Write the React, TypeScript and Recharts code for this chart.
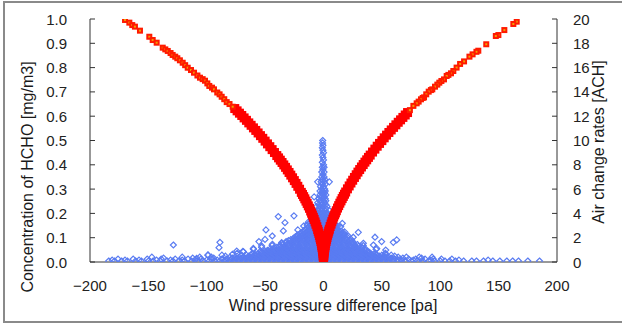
import React from 'react';
import { ScatterChart, Scatter, XAxis, YAxis } from 'recharts';

const xTicks = [-200, -150, -100, -50, 0, 50, 100, 150, 200];
const leftTicks = [0, 0.1, 0.2, 0.3, 0.4, 0.5, 0.6, 0.7, 0.8, 0.9, 1.0];
const rightTicks = [0, 2, 4, 6, 8, 10, 12, 14, 16, 18, 20];

// HCHO concentration points, grouped by concentration level: [y, x values]
const blueRows: [number, number[]][] = [
  [0.004, [-184, -179, -173, -168, -161, -156, -150, -146, -140, -134, -129, -124, -119, -113, -108, -103, -98, -93, -89, -85, -81, -77, -73, -69, -65, -61, -57, -53, -49, -45, -41, -37, -33, -29, -25, -21, -17, -13, -9, -5, -1, 3, 7, 11, 15, 19, 23, 27, 31, 35, 39, 43, 47, 51, 55, 59, 63, 67, 70, 75, 80, 85, 90, 95, 100, 104, 108, 113, 120, 127, 131, 137, 145, 151, 157, 162, 167, 175, 185]],
  [0.008, [-181, -170, -158, -143, -131, -121, -110, -100, -91, -84, -80, -76, -72, -68, -64, -60, -56, -52, -48, -44, -40, -36, -32, -28, -24, -20, -16, -12, -8, -4, 0, 4, 8, 12, 16, 20, 24, 28, 32, 36, 40, 44, 48, 52, 56, 60, 64, 77, 92, 116, 141]],
  [0.012, [-176, -163, -151, -139, -127, -116, -105, -96, -87, -83, -79, -75, -71, -67, -63, -59, -55, -51, -47, -43, -39, -35, -31, -27, -23, -19, -15, -11, -7, -3, 1, 5, 9, 13, 17, 21, 25, 29, 33, 37, 41, 45, 49, 53, 57, 61, 66, 73, 79, 87, 94, 101, 110]],
  [0.016, [-137, -112, -94, -78, -74, -70, -66, -62, -58, -54, -50, -46, -42, -38, -34, -30, -26, -22, -18, -14, -10, -6, -2, 2, 6, 10, 14, 18, 22, 26, 30, 34, 38, 42, 46, 50, 54, 58, 68, 84]],
  [0.02, [-147, -121, -106, -96, -80, -76, -72, -68, -64, -60, -56, -52, -48, -44, -40, -36, -32, -28, -24, -20, -16, -12, -8, -4, 0, 4, 8, 12, 16, 20, 24, 28, 32, 36, 40, 44, 48, 52, 56, 64, 71, 82, 93]],
  [0.024, [-84, -64, -60, -56, -52, -48, -44, -40, -36, -32, -28, -24, -20, -16, -12, -8, -4, 0, 4, 8, 12, 16, 20, 24, 28, 32, 36, 40, 44, 48, 52, 61]],
  [0.028, [-99, -87, -70, -66, -62, -58, -54, -50, -46, -42, -38, -34, -30, -26, -22, -18, -14, -10, -6, -2, 2, 6, 10, 14, 18, 22, 26, 30, 34, 38, 42, 46, 50, 58]],
  [0.032, [-78, -59, -55, -51, -47, -43, -39, -35, -31, -27, -23, -19, -15, -11, -7, -3, 1, 5, 9, 13, 17, 21, 25, 29, 33, 37, 41, 45]],
  [0.036, [-74, -61, -56, -52, -48, -44, -40, -36, -32, -28, -24, -20, -16, -12, -8, -4, 0, 4, 8, 12, 16, 20, 24, 28, 32, 36, 40, 44, 53]],
  [0.04, [-53, -49, -45, -41, -37, -33, -29, -25, -21, -17, -13, -9, -5, -1, 3, 7, 11, 15, 19, 23, 27, 31, 35, 39]],
  [0.044, [-69, -54, -50, -46, -42, -38, -34, -30, -26, -22, -18, -14, -10, -6, -2, 2, 6, 10, 14, 18, 22, 26, 30, 34, 38]],
  [0.048, [-48, -44, -40, -36, -32, -28, -24, -20, -16, -12, -8, -4, 0, 4, 8, 12, 16, 20, 24, 28, 32, 36]],
  [0.052, [-60, -46, -42, -38, -34, -30, -26, -22, -18, -14, -10, -6, -2, 2, 6, 10, 14, 18, 22, 26, 30, 35, 45]],
  [0.056, [-43, -39, -35, -31, -27, -23, -19, -15, -11, -7, -3, 1, 5, 9, 13, 17, 21, 25, 29, 33]],
  [0.06, [-53, -40, -36, -32, -28, -24, -20, -16, -12, -8, -4, 0, 4, 8, 12, 16, 20, 24, 28, 33]],
  [0.064, [-38, -34, -30, -26, -22, -18, -14, -10, -6, -2, 2, 6, 10, 14, 18, 22, 26, 30]],
  [0.068, [-44, -37, -33, -29, -25, -21, -17, -13, -9, -5, -1, 3, 7, 11, 15, 19, 23, 27, 34]],
  [0.072, [-35, -31, -27, -23, -19, -15, -11, -7, -3, 1, 5, 9, 13, 17, 21, 25, 29]],
  [0.076, [-36, -30, -26, -22, -18, -14, -10, -6, -2, 2, 6, 10, 14, 18, 22, 26]],
  [0.08, [-32, -28, -24, -20, -16, -12, -8, -4, 0, 4, 8, 12, 16, 20, 24]],
  [0.084, [-32, -27, -23, -19, -15, -11, -7, -3, 1, 5, 9, 13, 17, 21, 25]],
  [0.088, [-30, -26, -22, -18, -14, -10, -6, -2, 2, 6, 10, 14, 18, 22]],
  [0.092, [-28, -24, -20, -16, -12, -8, -4, 0, 4, 8, 12, 16, 20, 24]],
  [0.096, [-26, -22, -18, -14, -10, -6, -2, 2, 6, 10, 14, 18]],
  [0.1, [-25, -21, -17, -13, -9, -5, -1, 3, 7, 11, 15, 19]],
  [0.104, [-24, -20, -16, -12, -8, -4, 0, 4, 8, 12, 16, 20]],
  [0.108, [-23, -19, -15, -11, -7, -3, 1, 5, 9, 13, 17, 21]],
  [0.112, [-22, -18, -14, -10, -6, -2, 2, 6, 10, 14, 18]],
  [0.116, [-20, -16, -12, -8, -4, 0, 4, 8, 12, 16]],
  [0.12, [-19, -15, -11, -7, -3, 1, 5, 9, 13, 17]],
  [0.124, [-18, -14, -10, -6, -2, 2, 6, 10, 14, 18]],
  [0.128, [-17, -13, -9, -5, -1, 3, 7, 11, 15]],
  [0.132, [-22, -16, -12, -8, -4, 0, 4, 8, 12]],
  [0.136, [-15, -11, -7, -3, 1, 5, 9]],
  [0.14, [-14, -10, -6, -2, 2, 6, 10]],
  [0.144, [-13, -9, -5, -1, 3, 7, 11]],
  [0.148, [-17, -12, -8, -4, 0, 4, 8, 12]],
  [0.152, [-14, -10, -6, -2, 2, 6, 10]],
  [0.156, [-11, -7, -3, 1, 5, 9]],
  [0.16, [-12, -8, -4, 0, 4, 8]],
  [0.164, [-13, -9, -5, -1, 3, 7]],
  [0.168, [-10, -6, -2, 2, 6]],
  [0.172, [-8, -4, 0, 4, 8]],
  [0.176, [-9, -5, -1, 3, 7]],
  [0.18, [-10, -6, -2, 2, 6]],
  [0.184, [-8, -4, 0, 4]],
  [0.188, [-7, -4, -1, 2, 5]],
  [0.192, [-6, -3, 0, 3]],
  [0.196, [-9, -5, -2, 1, 4]],
  [0.2, [-7, -4, -1, 2]],
  [0.204, [-6, -3, 0, 3]],
  [0.212, [-8, -5, -2, 1, 5]],
  [0.22, [-4, -1, 2]],
  [0.228, [-6, -3, 0, 3]],
  [0.236, [-4, -1, 2]],
  [0.244, [-5, -2, 1]],
  [0.252, [-3, 0, 2]],
  [0.26, [-4, -1, 1.5]],
  [0.268, [-8, -2.5, 0.5]],
  [0.276, [-3, 0, 2]],
  [0.284, [-2, 1]],
  [0.292, [-3, -0.5, 1.5]],
  [0.3, [-1.5, 1]],
  [0.31, [-2.5, 0]],
  [0.32, [-1, 1.5]],
  [0.33, [-5, -2, 0.5, 5]],
  [0.34, [-1, 1]],
  [0.35, [-1.5, 0.5]],
  [0.36, [-0.5]],
  [0.37, [-1.5, 0.5]],
  [0.38, [-0.5]],
  [0.39, [-1, 0.5]],
  [0.40, [0]],
  [0.41, [-1]],
  [0.42, [0]],
  [0.43, [-0.5]],
  [0.44, [-1]],
  [0.45, [0]],
  [0.46, [-0.5]],
  [0.47, [-1]],
  [0.48, [-0.5]],
  [0.49, [-0.8]],
  [0.50, [-0.7]],
];

// isolated HCHO points: [x, y]
const blueIsolated: [number, number][] = [
  [-128.6, 0.070], [-88.7, 0.081], [-89.5, 0.059], [-38.7, 0.187], [-25.3, 0.19],
  [-33, 0.162], [-49.3, 0.132], [-34.4, 0.128], [-43.9, 0.107], [-55.3, 0.084],
  [-50.1, 0.093], [-53, 0.066], [-43.8, 0.073], [-35.8, 0.080], [-74.3, 0.045],
  [-68.7, 0.042], [-60.1, 0.056], [-98.9, 0.029], [-108.6, 0.015],
  [29.8, 0.122], [25.5, 0.102], [44.1, 0.102], [49.8, 0.084], [62.7, 0.091],
  [59.8, 0.081], [16.1, 0.159], [14.7, 0.145], [34.1, 0.077], [35.5, 0.056],
  [45.6, 0.056], [53.3, 0.049], [52.7, 0.033], [42.7, 0.070],
];

// air change rate points, sparse upper part: [x, ACH]
const redSparse: [number, number][] = [
  [-170.0, 19.92], [-166.3, 19.7], [-163.8, 19.5], [-161.5, 19.37], [-157.2, 19.04],
  [-149.2, 18.54], [-146.3, 18.27], [-142.9, 18.05], [-137.7, 17.64], [-135.5, 17.5],
  [-133.4, 17.37], [-131, 17.2], [-129.2, 17.04], [-127, 16.9], [-125.2, 16.77],
  [-123, 16.6], [-120.6, 16.40], [-118.5, 16.2], [-116.3, 15.99], [-113.5, 15.8],
  [-110.9, 15.58], [-108, 15.35], [-105.8, 15.17], [-103.5, 15.05], [-101.5, 14.92],
  [-99.5, 14.7], [-97.8, 14.49], [-95.5, 14.35], [-93.8, 14.21], [-91, 13.95],
  [-89, 13.8], [-87.2, 13.60], [-85, 13.4], [-82.9, 13.16], [-80.5, 13.0], [-77.8, 12.78],
  [165.5, 19.78], [162.6, 19.59], [154.9, 19.09], [149.8, 18.68], [147.6, 18.60],
  [139.4, 17.92], [132.6, 17.39], [131, 17.3], [127.7, 17.09], [125, 16.9], [120.4, 16.51],
  [117, 16.3], [114, 16.0], [111.2, 15.72], [109.2, 15.53], [107, 15.4], [105.5, 15.31],
  [103.2, 15.03], [101, 14.9], [99.2, 14.76], [97.5, 14.6], [95.5, 14.43], [93.2, 14.21],
  [92, 14.15], [90.1, 14.02], [88, 13.8], [86.1, 13.55], [85, 13.5], [83.5, 13.39],
  [81.5, 13.2], [79.8, 13.06], [77, 12.85], [74, 12.5],
];

// air change rate points, dense lower part: [x, ACH]
const redDense: [number, number][] = [
  [-76, 12.63], [-74, 12.44], [-72, 12.25], [-70, 12.06], [-68, 11.86], [-66, 11.66],
  [-64, 11.45], [-62, 11.25], [-60, 11.04], [-58, 10.83], [-56, 10.62], [-54, 10.40],
  [-52, 10.18], [-50, 9.95], [-48, 9.72], [-46, 9.49], [-44, 9.25], [-42, 9.01],
  [-40, 8.76], [-38.5, 8.57], [-37, 8.38], [-35.5, 8.19], [-34, 7.99], [-32.5, 7.79],
  [-31, 7.58], [-29.5, 7.37], [-28, 7.15], [-26.5, 6.93], [-25, 6.70], [-23.5, 6.47],
  [-22, 6.23], [-20.5, 5.99], [-19, 5.73], [-18, 5.56], [-17, 5.38], [-16, 5.20],
  [-15, 5.01], [-14, 4.82], [-13, 4.62], [-12, 4.42], [-11, 4.20], [-10.2, 4.02],
  [-9.5, 3.86], [-8.7, 3.68], [-8, 3.50], [-7.2, 3.30], [-6.5, 3.11], [-5.7, 2.90],
  [-5, 2.68], [-4.5, 2.52], [-4, 2.36], [-3.5, 2.18], [-3, 2.00], [-2.6, 1.85],
  [-2.2, 1.68], [-1.8, 1.52], [-1.5, 1.35], [-1.2, 1.20], [-1, 1.07], [-0.7, 0.88],
  [-0.5, 0.72], [-0.3, 0.55], [-0.2, 0.43], [-0.1, 0.28], [0, 0.1],
  [0.1, 0.3], [0.2, 0.45], [0.3, 0.57], [0.5, 0.74], [0.7, 0.9], [1, 1.08], [1.2, 1.22],
  [1.5, 1.36], [1.8, 1.53], [2.2, 1.69], [2.6, 1.86], [3, 2.02], [3.5, 2.2], [4, 2.37],
  [4.5, 2.54], [5, 2.70], [5.7, 2.92], [6.5, 3.12], [7.2, 3.32], [8, 3.52], [8.7, 3.70],
  [9.5, 3.88], [10.2, 4.04], [11, 4.22], [12, 4.44], [13, 4.64], [14, 4.84], [15, 5.03],
  [16, 5.22], [17, 5.40], [18, 5.58], [19, 5.76], [20.5, 6.02], [22, 6.26], [23.5, 6.50],
  [25, 6.73], [26.5, 6.96], [28, 7.18], [29.5, 7.40], [31, 7.61], [32.5, 7.82], [34, 8.02],
  [35.5, 8.22], [37, 8.41], [38.5, 8.61], [40, 8.80], [42, 9.05], [44, 9.29], [46, 9.53],
  [48, 9.76], [50, 9.99], [52, 10.22], [54, 10.44], [56, 10.66], [58, 10.87], [60, 11.08],
  [62, 11.29], [64, 11.50], [66, 11.70], [68, 11.90], [70, 12.10], [72, 12.30],
];

const blueData = [
  ...blueRows.flatMap(([y, xs]) => xs.map((x) => ({ x, y }))),
  ...blueIsolated.map(([x, y]) => ({ x, y })),
];
const redSparseData = redSparse.map(([x, y]) => ({ x, y }));
const redDenseData = redDense.map(([x, y]) => ({ x, y }));

const FONT = '"Liberation Sans", Arial, sans-serif';
const AXIS = '#333333';

const Diamond = (p: any) => {
  const { cx, cy } = p;
  if (cx == null || cy == null) return <g />;
  const r = 3;
  return (
    <path
      d={`M${cx},${cy - r}L${cx + r},${cy}L${cx},${cy + r}L${cx - r},${cy}Z`}
      fill="none"
      stroke="#5a7cf2"
      strokeWidth={1.2}
    />
  );
};

const SquareSparse = (p: any) => {
  const { cx, cy } = p;
  if (cx == null || cy == null) return <g />;
  return <rect x={cx - 2} y={cy - 2} width={4} height={4} fill="#f0a000" stroke="#ff1a00" strokeWidth={2} />;
};

const SquareDense = (p: any) => {
  const { cx, cy } = p;
  if (cx == null || cy == null) return <g />;
  return <rect x={cx - 4.5} y={cy - 4.5} width={9} height={9} fill="#ff0000" />;
};

const fmtX = (v: number) => (v < 0 ? '\u2212' + Math.abs(v) : String(v));

const XTick = (p: any) => {
  const { x, y, payload } = p;
  return (
    <text x={x} y={y + 23} textAnchor="middle" dominantBaseline="central" fontSize={15} fontFamily={FONT} fill="#222">
      {fmtX(payload.value)}
    </text>
  );
};

const LeftTick = (p: any) => {
  const { x, y, payload } = p;
  return (
    <g>
      <line x1={x} x2={x + 5} y1={y} y2={y} stroke={AXIS} strokeWidth={1} />
      <text x={x - 23} y={y} textAnchor="end" dominantBaseline="central" fontSize={15} fontFamily={FONT} fill="#222">
        {Number(payload.value).toFixed(1)}
      </text>
    </g>
  );
};

const RightTick = (p: any) => {
  const { x, y, payload } = p;
  return (
    <g>
      <line x1={x - 5} x2={x} y1={y} y2={y} stroke={AXIS} strokeWidth={1} />
      <text x={x + 16} y={y} textAnchor="start" dominantBaseline="central" fontSize={15} fontFamily={FONT} fill="#222">
        {payload.value}
      </text>
    </g>
  );
};

const titleStyle: React.CSSProperties = {
  position: 'absolute',
  fontFamily: FONT,
  fontSize: 16,
  color: '#1a1a1a',
  whiteSpace: 'nowrap',
  lineHeight: '18px',
};

export default function App() {
  return (
    <div style={{ position: 'fixed', left: 0, top: 0, width: 622, height: 325, background: '#fff', overflow: 'hidden' }}>
      <div
        style={{
          position: 'absolute',
          left: 3,
          top: 1,
          width: 640,
          height: 318,
          borderTop: '2px solid #8a8a8a',
          borderLeft: '2px solid #8a8a8a',
          borderBottom: '2px solid #8a8a8a',
        }}
      />
      <div style={{ position: 'absolute', left: 0, top: 0 }}>
        <ScatterChart width={622} height={325} margin={{ top: 19, right: 0, bottom: 0, left: 0 }}>
          <XAxis
            type="number"
            dataKey="x"
            domain={[-200, 200]}
            ticks={xTicks}
            interval={0}
            allowDataOverflow
            height={63}
            tickSize={0}
            tickMargin={0}
            tickLine={false}
            tick={<XTick />}
            axisLine={{ stroke: AXIS, strokeWidth: 1 }}
          />
          <YAxis
            yAxisId="l"
            type="number"
            dataKey="y"
            domain={[0, 1]}
            ticks={leftTicks}
            interval={0}
            allowDataOverflow
            width={90}
            tickSize={0}
            tickMargin={0}
            tickLine={false}
            tick={<LeftTick />}
            axisLine={{ stroke: AXIS, strokeWidth: 1 }}
          />
          <YAxis
            yAxisId="r"
            orientation="right"
            type="number"
            dataKey="y"
            domain={[0, 20]}
            ticks={rightTicks}
            interval={0}
            allowDataOverflow
            width={65}
            tickSize={0}
            tickMargin={0}
            tickLine={false}
            tick={<RightTick />}
            axisLine={{ stroke: AXIS, strokeWidth: 1 }}
          />
          <Scatter yAxisId="l" data={blueData} shape={Diamond} isAnimationActive={false} />
          <Scatter yAxisId="r" data={redDenseData} shape={SquareDense} isAnimationActive={false} />
          <Scatter yAxisId="r" data={redSparseData} shape={SquareSparse} isAnimationActive={false} />
        </ScatterChart>
      </div>
      <div style={{ ...titleStyle, left: 28, top: 177, transform: 'translate(-50%, -50%) rotate(-90deg)' }}>
        Concentration of HCHO [mg/m3]
      </div>
      <div style={{ ...titleStyle, left: 599, top: 142, transform: 'translate(-50%, -50%) rotate(-90deg)' }}>
        Air change rates [ACH]
      </div>
      <div style={{ ...titleStyle, left: 333, top: 306, transform: 'translate(-50%, -50%)' }}>
        Wind pressure difference [pa]
      </div>
    </div>
  );
}
